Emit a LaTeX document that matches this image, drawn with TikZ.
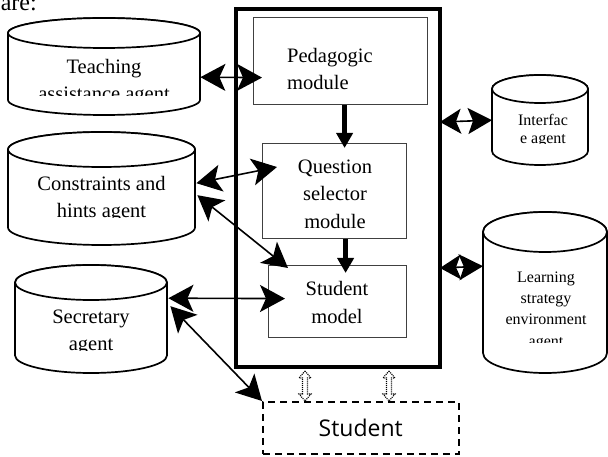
\documentclass[tikz,border=0pt]{standalone}
\usepackage{fontspec}
\setmainfont{Liberation Serif}
\newfontfamily\stfont{Open Sans}
\usetikzlibrary{arrows.meta,calc}
\tikzset{
 cylline/.style={line width=1.7pt, fill=white},
 modbox/.style={draw=black!75, line width=1.2pt, inner sep=0pt, anchor=north west},
 ghost/.style={inner sep=0pt, anchor=north west},
 bighead/.style={},
 biarrow/.style={line width=1.6pt, {Stealth[length=25pt,width=27pt,inset=6pt]}-{Stealth[length=25pt,width=27pt,inset=6pt]}},
 sidearrow/.style={line width=1.6pt, {Stealth[length=21pt,width=25pt,inset=5pt]}-{Stealth[length=24pt,width=26pt,inset=5pt]}},
 flow/.style={line width=5pt, -{Triangle[length=15pt,width=16pt]}},
 bigtxt/.style={inner sep=0pt, anchor=north, align=center, font=\fontsize{20.5}{27}\selectfont},
 smalltxt/.style={inner sep=0pt, anchor=north, align=center, font=\fontsize{16}{20}\selectfont},
 dotarrow/.style={line width=1.1pt, dash pattern=on 1pt off 1pt},
}
\newcommand{\mycyl}[6]{%
 \node[ghost, minimum width={(#3-#2)*1pt}, minimum height={(#5-#4)*1pt}] (#1) at (#2,#4) {};
 \filldraw[cylline] (#2,{#4+#6}) -- (#2,{#5-#6}) arc[start angle=180,end angle=360,x radius={(#3-#2)/2*1pt},y radius={#6*1pt}] -- (#3,{#4+#6}) arc[start angle=0,end angle=180,x radius={(#3-#2)/2*1pt},y radius={#6*1pt}] -- cycle;
 \draw[cylline] ({(#2+#3)/2},{#4+#6}) ellipse[x radius={(#3-#2)/2*1pt},y radius={#6*1pt}];
}
\newcommand{\hollowarr}[2]{\draw[dotarrow] let \p1=(#1), \p2=(#2) in (\x1,\y1) -- (\x1+6pt,\y1-7pt) -- (\x1+2.5pt,\y1-7pt) -- (\x1+2.5pt,\y2+7pt) -- (\x1+6pt,\y2+7pt) -- (\x1,\y2) -- (\x1-6pt,\y2+7pt) -- (\x1-2.5pt,\y2+7pt) -- (\x1-2.5pt,\y1-7pt) -- (\x1-6pt,\y1-7pt) -- cycle;}
\begin{document}
\begin{tikzpicture}[x=1pt,y=-1pt]
\useasboundingbox (0,0) rectangle (608,457);
\clip (0,0) rectangle (608,457);
\node[inner sep=0pt, anchor=base east, font=\fontsize{24}{28}\selectfont] (are) at (37,11) {are:};
% cylinders
\mycyl{ta}{8}{200}{18}{115}{15}
\mycyl{ch}{8}{195}{132}{245}{17.5}
\mycyl{sec}{15}{167}{265}{373}{17.5}
\mycyl{intf}{492}{588}{75}{165}{14}
\mycyl{lse}{483}{607}{212}{373}{20}
\begin{scope}
\clip (8,18) rectangle (200,96);
\node[bigtxt] (tatxt) at (104,58) {\rule{0pt}{15pt}Teaching\\assistance agent};
\end{scope}
\begin{scope}
\clip (8,132) rectangle (195,218);
\node[bigtxt] (chtxt) at (101.5,175) {\rule{0pt}{15pt}Constraints and\\hints agent};
\end{scope}
\begin{scope}
\clip (15,265) rectangle (167,350);
\node[bigtxt] (sectxt) at (91,308) {\rule{0pt}{15pt}Secretary\\agent};
\end{scope}
\begin{scope}
\clip (492,75) rectangle (588,144);
\node[smalltxt, font=\fontsize{16}{18.5}\selectfont] (intftxt) at (543,113) {\rule{0pt}{12pt}Interfac\\e agent};
\end{scope}
\begin{scope}
\clip (483,212) rectangle (607,342);
\node[smalltxt, font=\fontsize{16}{21.3}\selectfont] (lsetxt) at (546,270) {\rule{0pt}{12pt}Learning\\strategy\\environment\\agent};
\end{scope}
% main box and modules
\node[draw, line width=4pt, minimum width=204pt, minimum height=358pt, inner sep=0pt, anchor=north west] (main) at (234,7) {};
\node[modbox, minimum width=174pt, minimum height=87pt] (ped) at (253,17) {};
\node[modbox, minimum width=144pt, minimum height=95pt] (q) at (262,143) {};
\node[modbox, minimum width=138pt, minimum height=72pt] (sm) at (268,265) {};
\node[bigtxt, anchor=north west, align=left] (pedtxt) at (287,47) {\rule{0pt}{15pt}Pedagogic\\module};
\node[bigtxt, font=\fontsize{20.5}{27.5}\selectfont] (qtxt) at (335,158) {\rule{0pt}{15pt}Question\\selector\\module};
\node[bigtxt, font=\fontsize{20.5}{28}\selectfont] (smtxt) at (337,280) {\rule{0pt}{15pt}Student\\model};
\node[draw, line width=1.5pt, dash pattern=on 7pt off 5pt, minimum width=196pt, minimum height=52pt, inner sep=0pt, anchor=north west, font=\stfont\fontsize{23}{27}\selectfont] (st) at (262,401) {Student};
% flows
\draw[flow] ($(ped.south)+(4,0)$) -- ($(q.north)+(10,5)$);
\draw[flow] ($(q.south)+(11,0)$) -- ($(sm.north)+(8,8)$);
% connectors
\draw[biarrow] ($(ta.east)+(0,10.5)$) -- ($(ped.west)+(9,16.5)$);
\draw[biarrow] ($(ch.east)+(1,-5.5)$) -- ($(q.north west)+(15,24)$);
\draw[biarrow] ($(ch.east)+(2,6.5)$) -- ($(sm.north west)+(20,3)$);
\draw[biarrow] ($(sec.east)+(1,-21)$) -- ($(sm.west)+(17,-3)$);
\draw[biarrow] ($(sec.east)+(3,-13)$) -- (st.north west);
\draw[sidearrow] ($(main.east)+(-2,-66)$) -- (intf.west);
\draw[sidearrow] ($(main.east)+(-2,80)$) -- ($(lse.west)+(0,-26.5)$);
\hollowarr{$(main.south)+(-33,2)$}{$(st.north)+(-57,0)$}
\hollowarr{$(main.south)+(51,2)$}{$(st.north)+(27,0)$}
\end{tikzpicture}
\end{document}
